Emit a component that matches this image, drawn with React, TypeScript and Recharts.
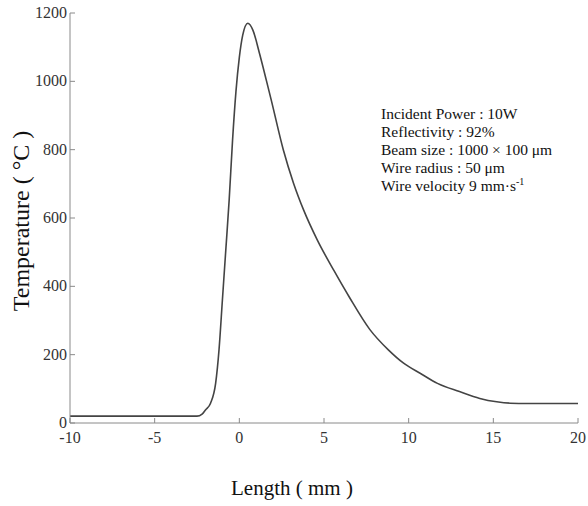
import { Customized, Line, LineChart, XAxis, YAxis } from "recharts"

const lengthMm = [
  -10, -2.5, -2.2, -2.0, -1.7, -1.4, -1.2, -1.0, -0.8, -0.6, -0.4, -0.2, 0, 0.2, 0.5, 0.8, 1.2, 1.6,
  1.9, 2.6, 3.2, 3.8, 4.6, 5.6, 6.5, 7.7, 8.8, 9.7, 10.7, 11.7, 13.0, 14.2, 15.2, 16.0, 17.0, 20,
]
const temperatureC = [
  20, 20, 26, 38, 58, 116, 214, 360, 506, 653, 828, 970, 1070, 1135, 1170, 1150, 1080, 1002,
  942, 799, 702, 623, 536, 445, 368, 274, 214, 175, 145, 116, 92, 72, 62, 58, 57, 57,
]
const xTicks = [-10, -5, 0, 5, 10, 15, 20]
const yTicks = [0, 200, 400, 600, 800, 1000, 1200]
const notes = [
  "Incident Power : 10W",
  "Reflectivity : 92%",
  "Beam size : 1000 × 100 μm",
  "Wire radius : 50 μm",
]

const data = lengthMm.map((L, i) => ({ L, T: temperatureC[i] }))

const font = "'Liberation Serif', 'Times New Roman', serif"
const axisColor = "#8a8a8a"

function XTick({ x, y, payload }: any) {
  return (
    <text x={x} y={y} dy={12} textAnchor="middle" fontFamily={font} fontSize={16} fill="#333">
      {payload.value}
    </text>
  )
}

function YTick({ x, y, payload }: any) {
  return (
    <text x={x} y={y} dy={5} textAnchor="end" fontFamily={font} fontSize={16} fill="#333">
      {payload.value}
    </text>
  )
}

function Annotations() {
  return (
    <g fontFamily={font} fill="#111">
      {notes.map((n, i) => (
        <text key={n} x={381} y={119 + i * 18} fontSize={15.5}>
          {n}
        </text>
      ))}
      <text x={381} y={119 + 4 * 18} fontSize={15.5}>
        Wire velocity 9 mm·s
        <tspan fontSize={10} dy={-6}>-1</tspan>
      </text>
      <text x={292} y={495} fontSize={21} textAnchor="middle">
        Length ( mm )
      </text>
      <text
        x={29}
        y={221}
        fontSize={24}
        textAnchor="middle"
        transform="rotate(-90 29 221)"
      >
        Temperature ( °C )
      </text>
    </g>
  )
}

export default function App() {
  return (
    <div style={{ position: "absolute", left: 0, top: 0, background: "#fff" }}>
      <LineChart
        width={588}
        height={506}
        data={data}
        margin={{ top: 13, right: 10, bottom: 53, left: 0 }}
      >
        <XAxis
          dataKey="L"
          type="number"
          domain={[-10, 20]}
          ticks={xTicks}
          height={30}
          tickSize={-5}
          tickMargin={13}
          stroke={axisColor}
          tick={<XTick />}
          allowDataOverflow
        />
        <XAxis
          xAxisId="top"
          orientation="top"
          dataKey="L"
          type="number"
          domain={[-10, 20]}
          ticks={xTicks}
          height={0}
          tickSize={-5}
          tick={false}
          stroke={axisColor}
          allowDataOverflow
        />
        <YAxis
          dataKey="T"
          type="number"
          domain={[0, 1200]}
          ticks={yTicks}
          width={70}
          tickSize={-5}
          tickMargin={8}
          stroke={axisColor}
          tick={<YTick />}
          allowDataOverflow
        />
        <YAxis
          yAxisId="right"
          orientation="right"
          dataKey="T"
          type="number"
          domain={[0, 1200]}
          ticks={yTicks}
          width={0}
          tickSize={-5}
          tick={false}
          stroke={axisColor}
          allowDataOverflow
        />
        <Line
          dataKey="T"
          type="monotone"
          stroke="#444"
          strokeWidth={1.6}
          dot={false}
          isAnimationActive={false}
        />
        <Customized component={Annotations} />
      </LineChart>
    </div>
  )
}
